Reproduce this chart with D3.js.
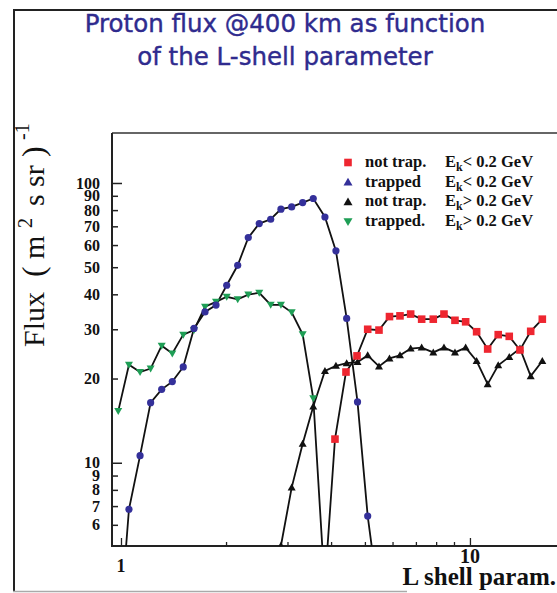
<!DOCTYPE html>
<html><head><meta charset="utf-8">
<script src="https://cdn.jsdelivr.net/npm/d3@7"></script>
<style>
html,body{margin:0;padding:0;background:#fff;}
svg{display:block;}
</style></head>
<body>
<svg id="chart" width="557" height="593"></svg>
<script>
// ---- data ----
const titleLines = ["Proton flux @400 km as function", "of the L-shell parameter"];

// trapped, Ek < 0.2 GeV (blue circles)
const blueL = [0.982, 1.054, 1.134, 1.216, 1.308, 1.403, 1.508, 1.619, 1.741, 1.872, 2.009, 2.160, 2.316, 2.490, 2.685, 2.873, 3.084, 3.316, 3.556, 3.841, 4.130, 4.433, 4.762, 5.093, 5.487];
const blueF = [2.2, 6.82, 10.6, 16.4, 18.3, 19.5, 22.0, 30.2, 34.6, 36.6, 43.1, 50.8, 63.8, 71.6, 74.2, 80.6, 82.1, 85.1, 88.0, 75.6, 57.2, 32.8, 16.5, 6.45, 3.2];

// trapped, Ek > 0.2 GeV (green down-triangles)
const greenL = [0.982, 1.054, 1.134, 1.216, 1.308, 1.403, 1.508, 1.619, 1.741, 1.872, 2.009, 2.160, 2.316, 2.490, 2.685, 2.873, 3.084, 3.316, 3.556, 3.841];
const greenF = [15.3, 22.4, 21.1, 21.7, 26.2, 24.6, 28.7, 29.8, 36.1, 37.6, 39.2, 38.4, 39.9, 40.5, 36.7, 36.7, 34.5, 28.8, 17.0, 3.5];

// not trapped, Ek < 0.2 GeV (red squares)
const redL = [3.841, 4.104, 4.413, 4.746, 5.093, 5.487, 5.880, 6.302, 6.762, 7.271, 7.850, 8.425, 9.059, 9.720, 10.45, 11.24, 12.05, 12.96, 13.91, 14.93, 16.12];
const redF = [3.7, 12.15, 21.1, 24.1, 30.0, 29.8, 33.3, 33.5, 34.0, 32.6, 32.6, 34.0, 32.3, 31.9, 29.4, 25.5, 28.7, 28.3, 25.3, 29.5, 32.6];

// not trapped, Ek > 0.2 GeV (black up-triangles)
const blackL = [2.873, 3.084, 3.316, 3.556, 3.841, 4.130, 4.433, 4.762, 5.093, 5.487, 5.880, 6.302, 6.762, 7.271, 7.850, 8.425, 9.059, 9.720, 10.45, 11.24, 12.05, 12.96, 13.91, 14.93, 16.12];
const blackF = [5.05, 8.15, 11.7, 15.9, 21.3, 22.2, 22.7, 22.9, 24.2, 22.1, 23.6, 24.2, 25.6, 25.8, 24.8, 25.8, 24.8, 25.8, 23.1, 19.1, 22.3, 23.9, 25.6, 20.4, 23.1];

const yTickValues = [6, 7, 8, 9, 10, 20, 30, 40, 50, 60, 70, 80, 90, 100];
const yTickLabels = ["6", "7", "8", "9", "10", "20", "30", "40", "50", "60", "70", "80", "90", "100"];
const yMajorTicks = [10, 100];
const xMinorTicks = [2, 3, 4, 5, 6, 7, 8, 9];
const xMajorTicks = [1, 10];
const xTickLabels = ["1", "10"];

const legendLabels = ["not trap.", "trapped", "not trap.", "trapped."];
const legendCond = ["< 0.2 GeV", "< 0.2 GeV", "> 0.2 GeV", "> 0.2 GeV"];

// ---- layout ----
const svg = d3.select("#chart");
const plot = {left: 112, right: 557, top: 133, bottom: 546};
const x = d3.scaleLog().domain([0.9424, 17.76]).range([plot.left, plot.right]);
const y = d3.scaleLog().domain([5.04, 150.9]).range([plot.bottom, plot.top]);

const serif = "'Liberation Serif','Times New Roman',serif";
const colBlue = "#34309a", colGreen = "#1e9e55", colRed = "#ee2630", colBlack = "#111";

// outer frame
svg.append("line").attr("x1", 13).attr("x2", 557).attr("y1", 10).attr("y2", 10).attr("stroke", "#222").attr("stroke-width", 2);
svg.append("line").attr("x1", 14).attr("x2", 14).attr("y1", 9).attr("y2", 592).attr("stroke", "#222").attr("stroke-width", 2);
svg.append("line").attr("x1", 13).attr("x2", 407).attr("y1", 591.5).attr("y2", 591.5).attr("stroke", "#aaa").attr("stroke-width", 1.5);

// title
svg.append("g").selectAll("text").data(titleLines).join("text")
  .attr("x", 285).attr("y", (d, i) => 32 + i * 33)
  .attr("text-anchor", "middle")
  .attr("font-family", "'DejaVu Sans',sans-serif").attr("font-size", 24.5)
  .attr("fill", "#2f2b8e").attr("stroke", "#2f2b8e").attr("stroke-width", 0.4)
  .text(d => d);

// plot top border
svg.append("line").attr("x1", plot.left).attr("x2", plot.right).attr("y1", plot.top).attr("y2", plot.top)
  .attr("stroke", "#333").attr("stroke-width", 1.5);

// y axis: minor ticks
const gy = svg.append("g").attr("transform", `translate(${plot.left},0)`);
gy.call(d3.axisRight(y).tickValues(yTickValues.filter(v => !yMajorTicks.includes(v))).tickSize(6).tickFormat(""));
gy.call(g => g.select(".domain").remove());
const gyM = svg.append("g").attr("transform", `translate(${plot.left},0)`);
gyM.call(d3.axisRight(y).tickValues(yMajorTicks).tickSize(10).tickFormat(""));
gyM.call(g => g.select(".domain").remove());
svg.selectAll(".tick line").attr("stroke", "#222").attr("stroke-width", 1.5);
// y labels
const gyl = svg.append("g").attr("transform", `translate(${plot.left},0)`);
gyl.call(d3.axisLeft(y).tickValues(yTickValues).tickSize(0).tickPadding(12)
  .tickFormat((d, i) => yTickLabels[i]));
gyl.select(".domain").remove();
gyl.selectAll("text").attr("font-family", serif).attr("font-weight", "bold").attr("font-size", 16).attr("fill", "#111");

// x axis ticks
const gx = svg.append("g").attr("transform", `translate(0,${plot.bottom})`);
gx.call(d3.axisTop(x).tickValues(xMinorTicks).tickSize(4).tickFormat(""));
gx.select(".domain").remove();
const gxM = svg.append("g").attr("transform", `translate(0,${plot.bottom})`);
gxM.call(d3.axisTop(x).tickValues(xMajorTicks).tickSize(8).tickFormat(""));
gxM.select(".domain").remove();
gx.selectAll("line").attr("stroke", "#222").attr("stroke-width", 1.3);
gxM.selectAll("line").attr("stroke", "#222").attr("stroke-width", 1.3);

svg.append("g").selectAll("text").data(xMajorTicks).join("text")
  .attr("x", d => x(d)).attr("y", (d, i) => i === 0 ? 572 : 563)
  .attr("text-anchor", "middle")
  .attr("font-family", serif).attr("font-weight", "bold").attr("font-size", (d, i) => i === 0 ? 18 : 20)
  .attr("fill", "#111")
  .text((d, i) => xTickLabels[i]);

// axis lines
svg.append("line").attr("x1", plot.left).attr("x2", plot.left).attr("y1", plot.top).attr("y2", plot.bottom + 1)
  .attr("stroke", "#222").attr("stroke-width", 2);
svg.append("line").attr("x1", plot.left - 1).attr("x2", plot.right).attr("y1", plot.bottom).attr("y2", plot.bottom)
  .attr("stroke", "#222").attr("stroke-width", 2);

// axis titles
svg.append("text").attr("x", 556).attr("y", 585).attr("text-anchor", "end")
  .attr("font-family", serif).attr("font-weight", "bold").attr("font-size", 25).attr("fill", "#111")
  .text("L shell param.");

const ylab = svg.append("text")
  .attr("transform", "translate(44,347) rotate(-90)")
  .attr("font-family", serif).attr("font-size", 30).attr("fill", "#111");
ylab.append("tspan").attr("x", 0).attr("y", 0).text("Flux");
ylab.append("tspan").attr("x", 70).attr("y", 0).attr("font-size", 32).text("(");
ylab.append("tspan").attr("x", 88).attr("y", 0).text("m");
ylab.append("tspan").attr("x", 119).attr("y", -12).attr("font-size", 20).text("2");
ylab.append("tspan").attr("x", 141).attr("y", 0).text("s");
ylab.append("tspan").attr("x", 160).attr("y", 0).text("sr");
ylab.append("tspan").attr("x", 190).attr("y", 0).attr("font-size", 32).text(")");
ylab.append("tspan").attr("x", 207).attr("y", -15).attr("font-size", 20).text("-1");

// clip
svg.append("clipPath").attr("id", "clip").append("rect")
  .attr("x", plot.left).attr("y", plot.top).attr("width", plot.right - plot.left).attr("height", plot.bottom - plot.top);

const line = d3.line().x(d => x(d[0])).y(d => y(d[1]));
const dataPlot = svg.append("g").attr("clip-path", "url(#clip)");

const series = [
  {L: greenL, F: greenF, col: colGreen, sym: "down"},
  {L: blueL, F: blueF, col: colBlue, sym: "circle"},
  {L: blackL, F: blackF, col: colBlack, sym: "up"},
  {L: redL, F: redF, col: colRed, sym: "square"}
];

function drawSym(g, sym, col, px, py, s) {
  if (sym === "circle") {
    g.append("circle").attr("cx", px).attr("cy", py).attr("r", 3.6).attr("fill", col);
  } else if (sym === "square") {
    g.append("rect").attr("x", px - 3.8).attr("y", py - 3.8).attr("width", 7.6).attr("height", 7.6).attr("fill", col);
  } else if (sym === "up") {
    g.append("path").attr("d", `M${px},${py - s}L${px + s},${py + s * 0.75}L${px - s},${py + s * 0.75}Z`).attr("fill", col);
  } else {
    g.append("path").attr("d", `M${px},${py + s}L${px + s},${py - s * 0.75}L${px - s},${py - s * 0.75}Z`).attr("fill", col);
  }
}

series.forEach(s => {
  const pts = s.L.map((l, i) => [l, s.F[i]]);
  dataPlot.append("path").attr("d", line(pts)).attr("fill", "none").attr("stroke", "#111").attr("stroke-width", 1.8);
});
series.forEach(s => {
  const g = dataPlot.append("g");
  s.L.forEach((l, i) => drawSym(g, s.sym, s.col, x(l), y(s.F[i]), 4));
});

// legend
const leg = svg.append("g");
const legSyms = [["square", colRed], ["up", colBlue], ["up", colBlack], ["down", colGreen]];
legendLabels.forEach((lab, i) => {
  const yy = 167 + i * 19.7;
  drawSym(leg, legSyms[i][0], legSyms[i][1], 348, yy - 4.5, 4.5);
  leg.append("text").attr("x", 365).attr("y", yy)
    .attr("font-family", serif).attr("font-weight", "bold").attr("font-size", 16.5).attr("fill", "#111")
    .text(lab);
  const t = leg.append("text").attr("x", 445).attr("y", yy)
    .attr("font-family", serif).attr("font-weight", "bold").attr("font-size", 16.5).attr("fill", "#111");
  t.append("tspan").text("E");
  t.append("tspan").attr("font-size", 12).attr("dy", 4).text("k");
  t.append("tspan").attr("dy", -4).text(legendCond[i]);
});
</script>
</body></html>
